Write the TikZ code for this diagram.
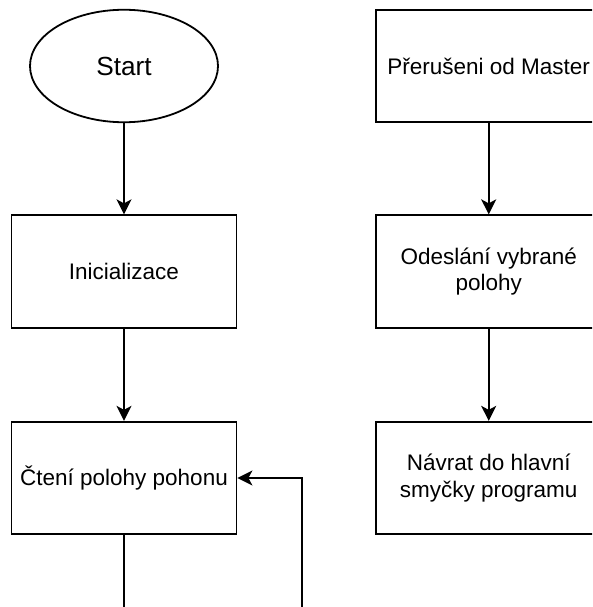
\documentclass[tikz,border=0pt]{standalone}
\usepackage{fontspec}
\setmainfont{Liberation Sans}
\usetikzlibrary{shapes.geometric,arrows.meta}
\begin{document}
\begin{tikzpicture}[x=1pt,y=-1pt,
  line width=1.8pt,
  procbox/.style={draw, rectangle, minimum width=225pt, minimum height=112.5pt, inner sep=0pt,
    align=center, font=\fontsize{22.5}{26.5}\selectfont},
  startnode/.style={draw, ellipse, minimum width=188pt, minimum height=112.5pt, inner sep=0pt,
    font=\fontsize{26.2}{30}\selectfont},
  flow/.style={-{Stealth[length=15pt,width=15pt,inset=4pt]}}]
\clip (0,0) rectangle (592,607);
\node[startnode] (start) at (124,66) {Start};
\node[procbox] (init) at (124,271.5) {Inicializace};
\node[procbox] (cteni) at (124,478) {Čtení polohy pohonu};
\node[procbox] (prer) at (488.7,66) {Přerušeni od Master};
\node[procbox] (odes) at (488.7,271.5) {Odeslání vybrané\\polohy};
\node[procbox] (navr) at (488.7,478) {Návrat do hlavní\\smyčky programu};
\coordinate (downend) at (124,607);
\coordinate (loopstart) at (302,607);
\draw[flow] (start) -- (init);
\draw[flow] (init) -- (cteni);
\draw[flow] (prer) -- (odes);
\draw[flow] (odes) -- (navr);
\draw (cteni) -- (downend);
\draw[flow] (loopstart) |- (cteni.east);
\end{tikzpicture}
\end{document}
